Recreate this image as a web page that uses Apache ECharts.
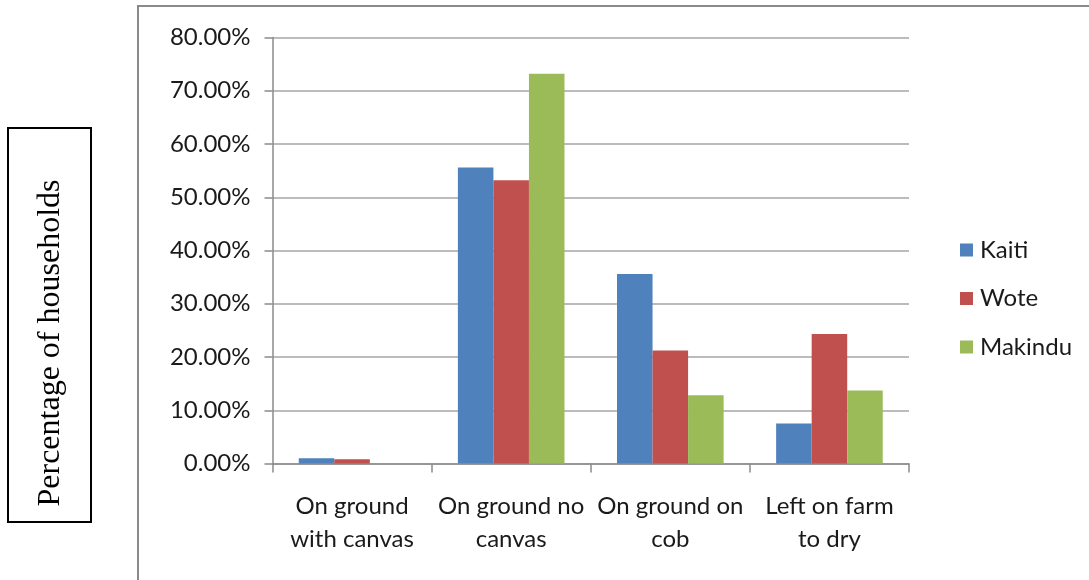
<!DOCTYPE html>
<html>
<head>
<meta charset="utf-8">
<script src="https://cdn.jsdelivr.net/npm/echarts@6/dist/echarts.min.js"></script>
<style>
  html, body { margin: 0; padding: 0; background: #fff; }
  #chart { width: 1089px; height: 580px; }
</style>
</head>
<body>
<div id="chart"></div>
<script>
// Drying methods for maize, share of households per location
const categories = ['On ground\nwith canvas', 'On ground no\ncanvas', 'On ground on\ncob', 'Left on farm\nto dry'];
const kaiti = [1.0, 55.6, 35.6, 7.5];
const wote = [0.8, 53.2, 21.2, 24.3];
const makindu = [0, 73.2, 12.8, 13.7];
const yTicks = { min: 0, max: 80, interval: 10 };

const FONT = 'Lato, "Open Sans", sans-serif';
const TEXT = '#1a1a1a';
const chart = echarts.init(document.getElementById('chart'), null, { renderer: 'canvas' });

function barSeries(name, data, color) {
  return {
    name: name,
    type: 'bar',
    data: data,
    barGap: '0%',
    barCategoryGap: '33%',
    itemStyle: { color: color },
    emphasis: { disabled: true }
  };
}

chart.setOption({
  animation: false,
  textStyle: { fontFamily: FONT },
  grid: { left: 272.5, right: 180, top: 37.5, bottom: 116.5, containLabel: false },
  graphic: [
    // outer chart frame (extends past the page on the right and bottom)
    { type: 'rect', shape: { x: 138, y: 6, width: 1100, height: 700 },
      style: { fill: null, stroke: '#8a8a8a', lineWidth: 2 }, silent: true },
    // boxed vertical axis title
    { type: 'rect', shape: { x: 8, y: 128, width: 83, height: 394 },
      style: { fill: '#fff', stroke: '#000', lineWidth: 2 }, silent: true },
    { type: 'text', x: 51, y: 343, rotation: Math.PI / 2,
      style: { text: 'Percentage of households', fontFamily: '"Liberation Serif", "DejaVu Serif", serif',
               fontSize: 32, fill: '#000', align: 'center', verticalAlign: 'middle' }, silent: true }
  ],
  legend: {
    orient: 'vertical',
    left: 955,
    top: 233,
    itemWidth: 13,
    itemHeight: 13,
    itemGap: 24.5,
    icon: 'rect',
    selectedMode: false,
    textStyle: { fontSize: 24, color: TEXT, fontFamily: FONT, lineHeight: 24, padding: [0, 0, 0, 2] },
    data: ['Kaiti', 'Wote', 'Makindu']
  },
  xAxis: {
    type: 'category',
    data: categories,
    boundaryGap: true,
    axisLine: { show: true, lineStyle: { color: '#8a8a8a', width: 1.5 } },
    axisTick: { show: true, length: 9, alignWithLabel: false, lineStyle: { color: '#8a8a8a', width: 1.5 } },
    axisLabel: { margin: 26, fontSize: 24, color: TEXT, lineHeight: 33, interval: 0 },
    splitLine: { show: false }
  },
  yAxis: {
    type: 'value',
    min: yTicks.min,
    max: yTicks.max,
    interval: yTicks.interval,
    axisLine: { show: true, lineStyle: { color: '#8a8a8a', width: 1.5 } },
    axisTick: { show: true, length: 8, lineStyle: { color: '#8a8a8a', width: 1.5 } },
    axisLabel: { margin: 22, fontSize: 24, color: TEXT, formatter: v => v.toFixed(2) + '%' },
    splitLine: { show: true, lineStyle: { color: '#a6a6a6', width: 1.5 } }
  },
  series: [
    barSeries('Kaiti', kaiti, '#4f81bd'),
    barSeries('Wote', wote, '#c0504d'),
    barSeries('Makindu', makindu, '#9bbb59')
  ]
});
</script>
</body>
</html>
